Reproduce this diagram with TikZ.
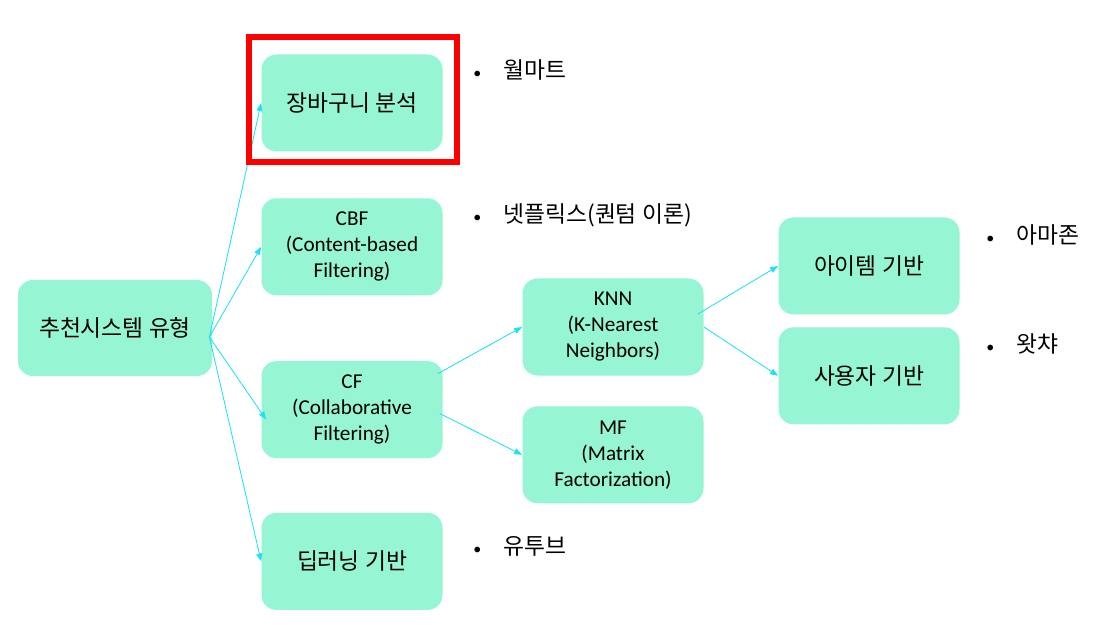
\documentclass[tikz,border=0pt]{standalone}
\usepackage{fontspec}
\setmainfont{Carlito}
\newfontfamily\krfont{Noto Sans CJK KR}
\usepackage{tikz}
\definecolor{mint}{RGB}{150,245,210}
\definecolor{linkcyan}{RGB}{30,225,245}
\usetikzlibrary{arrows.meta,positioning}

\begin{document}
\begin{tikzpicture}[
    x=0.5pt, y=-0.5pt,
    box/.style={rectangle, fill=mint, rounded corners=7.5pt, minimum width=90.5pt, minimum height=48.5pt, inner sep=0pt, align=center, font=\fontsize{10.6}{13}\selectfont},
    kbox/.style={box, font=\krfont\fontsize{11.4}{13}\selectfont},
    note/.style={anchor=west, inner sep=0pt, font=\krfont\fontsize{11.4}{13}\selectfont},
    arrow/.style={-{Triangle[length=4pt,width=3pt]}, draw=linkcyan, fill=linkcyan, line width=0.4pt},
    hilite/.style={draw=red, line width=3pt}
]
\useasboundingbox (0,0) rectangle (1101,625);

% root and first level
\node[kbox, minimum width=97pt, minimum height=48pt] (root) at (115,328) {추천시스템 유형};
\node[kbox] (basket) at (352,103) {장바구니 분석};
\node[box, below=23pt of basket] (cbf) {CBF\\(Content-based\\Filtering)};
\node[box, below=32.5pt of cbf] (cf) {CF\\(Collaborative\\Filtering)};
\node[kbox, below=27pt of cf] (deep) {딥러닝 기반};

% CF branch
\node[box] (knn) at (613,327) {KNN\\(K-Nearest\\Neighbors)};
\node[box, below=15pt of knn] (mf) {MF\\(Matrix\\Factorization)};
\node[kbox] (item) at (869,266) {아이템 기반};
\node[kbox, below=6pt of item] (user) {사용자 기반};

% examples
\node[note] (walmart) at (473,70) {\makebox[15pt][l]{\rmfamily\footnotesize\textbullet}월마트};
\node[note] (netflix) at (473,215) {\makebox[15pt][l]{\rmfamily\footnotesize\textbullet}넷플릭스(퀀텀 이론)};
\node[note] (youtube) at (473,546) {\makebox[15pt][l]{\rmfamily\footnotesize\textbullet}유투브};
\node[note] (amazon) at (986,235) {\makebox[15pt][l]{\rmfamily\footnotesize\textbullet}아마존};
\node[note] (watcha) at (986,344) {\makebox[15pt][l]{\rmfamily\footnotesize\textbullet}왓챠};

% links
\coordinate (fan) at ([shift={(-3,9)}]root.east);
\draw[arrow] (fan) -- (basket.west);
\draw[arrow] (fan) -- (cbf.west);
\draw[arrow] (fan) -- ([shift={(5,10)}]cf.west);
\draw[arrow] (fan) -- (deep.west);
\draw[arrow] ([shift={(-5,-36)}]cf.east) -- (knn.west);
\draw[arrow] ([shift={(-3,4)}]cf.east) -- (mf.west);
\draw[arrow] ([shift={(-6,-13)}]knn.east) -- (item.west);
\draw[arrow] (knn.east) -- (user.west);

\draw[hilite] ([shift={(-12,-17)}]basket.north west) rectangle ([shift={(14,10.5)}]basket.south east);

\end{tikzpicture}
\end{document}
